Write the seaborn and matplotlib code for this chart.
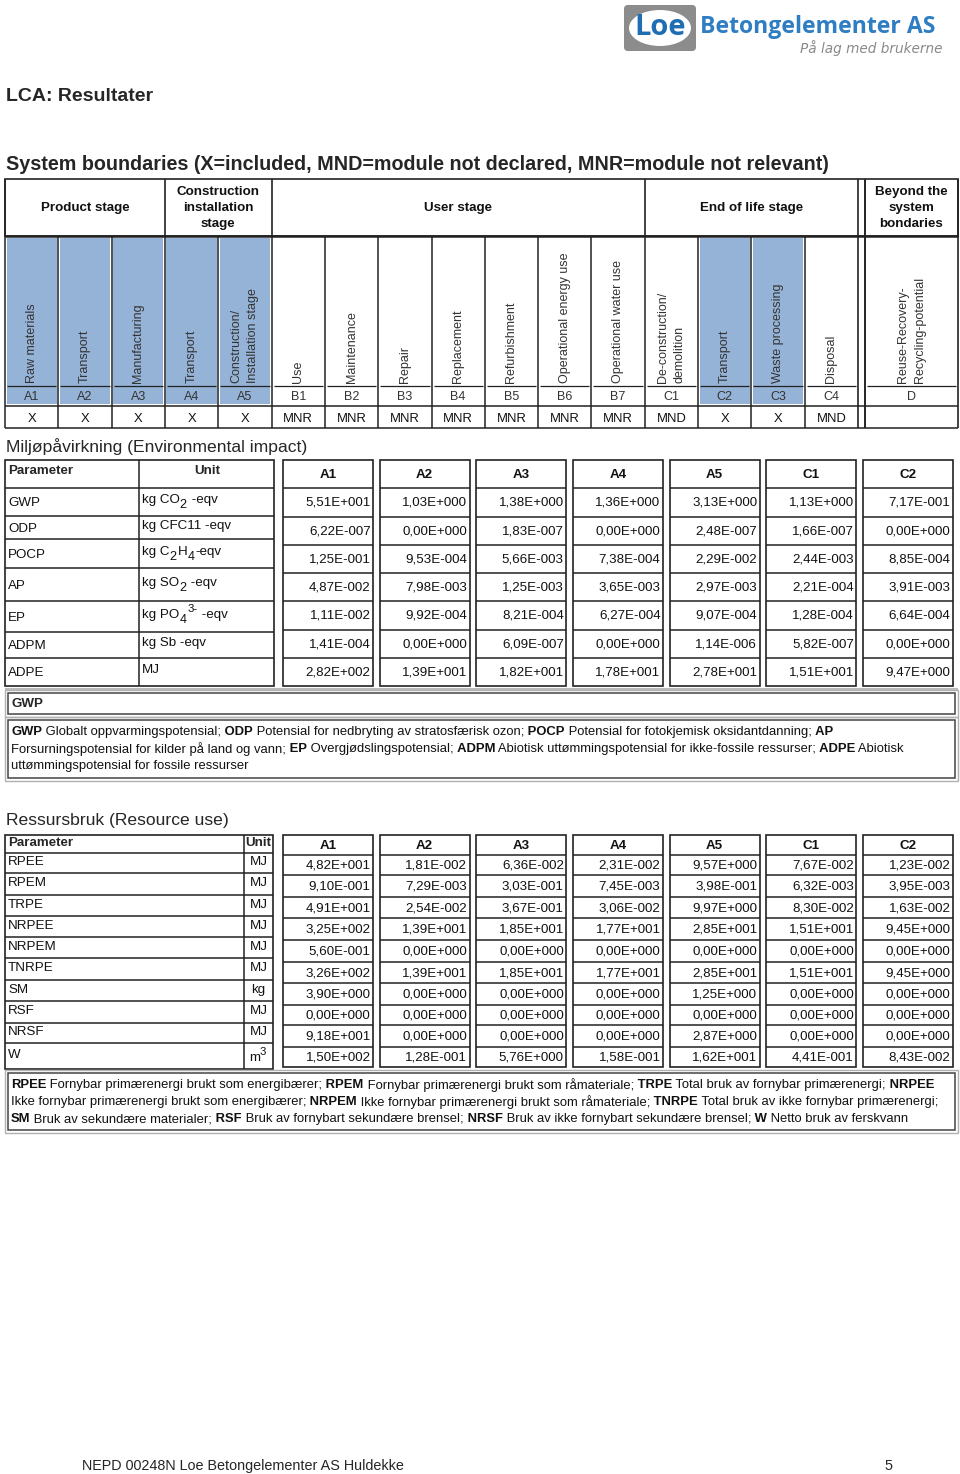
import re
import matplotlib
matplotlib.use("Agg")
import matplotlib.pyplot as plt
from matplotlib import font_manager
from matplotlib.patches import Rectangle, FancyBboxPatch, Ellipse
import numpy as np
import seaborn as sns

# ---- system boundaries -------------------------------------------------
modules = ["A1", "A2", "A3", "A4", "A5", "B1", "B2", "B3", "B4", "B5", "B6",
           "B7", "C1", "C2", "C3", "C4", "D"]
module_names = ["Raw materials", "Transport", "Manufacturing", "Transport",
                "Construction/\nInstallation stage", "Use", "Maintenance",
                "Repair", "Replacement", "Refurbishment",
                "Operational energy use", "Operational water use",
                "De-construction/\ndemolition", "Transport", "Waste processing",
                "Disposal", "Reuse-Recovery-\nRecycling-potential"]
module_status = ["X", "X", "X", "X", "X", "MNR", "MNR", "MNR", "MNR", "MNR",
                 "MNR", "MNR", "MND", "X", "X", "MND", ""]
stages = ["Product stage", "Construction\ninstallation\nstage", "User stage",
          "End of life stage", "Beyond the\nsystem\nbondaries"]
stage_first = [0, 3, 5, 12, 16]
stage_last = [3, 5, 12, 16, 17]

# ---- environmental impact ----------------------------------------------
value_cols = ["A1", "A2", "A3", "A4", "A5", "C1", "C2"]
env_params = ["GWP", "ODP", "POCP", "AP", "EP", "ADPM", "ADPE"]
# {_x} = subscript, {^x} = superscript
env_units = ["kg CO{_2} -eqv", "kg CFC11 -eqv", "kg C{_2}H{_4}-eqv",
             "kg SO{_2} -eqv", "kg PO{_4}{^3-} -eqv", "kg Sb -eqv", "MJ"]
env_a1 = [5.51e1, 6.22e-7, 1.25e-1, 4.87e-2, 1.11e-2, 1.41e-4, 2.82e2]
env_a2 = [1.03e0, 0.0, 9.53e-4, 7.98e-3, 9.92e-4, 0.0, 1.39e1]
env_a3 = [1.38e0, 1.83e-7, 5.66e-3, 1.25e-3, 8.21e-4, 6.09e-7, 1.82e1]
env_a4 = [1.36e0, 0.0, 7.38e-4, 3.65e-3, 6.27e-4, 0.0, 1.78e1]
env_a5 = [3.13e0, 2.48e-7, 2.29e-2, 2.97e-3, 9.07e-4, 1.14e-6, 2.78e1]
env_c1 = [1.13e0, 1.66e-7, 2.44e-3, 2.21e-4, 1.28e-4, 5.82e-7, 1.51e1]
env_c2 = [7.17e-1, 0.0, 8.85e-4, 3.91e-3, 6.64e-4, 0.0, 9.47e0]

# ---- resource use ------------------------------------------------------
res_params = ["RPEE", "RPEM", "TRPE", "NRPEE", "NRPEM", "TNRPE", "SM", "RSF",
              "NRSF", "W"]
res_units = ["MJ", "MJ", "MJ", "MJ", "MJ", "MJ", "kg", "MJ", "MJ", "m{^3}"]
res_a1 = [4.82e1, 9.10e-1, 4.91e1, 3.25e2, 5.60e-1, 3.26e2, 3.90e0, 0.0, 9.18e1, 1.50e2]
res_a2 = [1.81e-2, 7.29e-3, 2.54e-2, 1.39e1, 0.0, 1.39e1, 0.0, 0.0, 0.0, 1.28e-1]
res_a3 = [6.36e-2, 3.03e-1, 3.67e-1, 1.85e1, 0.0, 1.85e1, 0.0, 0.0, 0.0, 5.76e0]
res_a4 = [2.31e-2, 7.45e-3, 3.06e-2, 1.77e1, 0.0, 1.77e1, 0.0, 0.0, 0.0, 1.58e-1]
res_a5 = [9.57e0, 3.98e-1, 9.97e0, 2.85e1, 0.0, 2.85e1, 1.25e0, 0.0, 2.87e0, 1.62e1]
res_c1 = [7.67e-2, 6.32e-3, 8.30e-2, 1.51e1, 0.0, 1.51e1, 0.0, 0.0, 0.0, 4.41e-1]
res_c2 = [1.23e-2, 3.95e-3, 1.63e-2, 9.45e0, 0.0, 9.45e0, 0.0, 0.0, 0.0, 8.43e-2]

env_legend = [
    [("GWP", True), (" Globalt oppvarmingspotensial;", False), (" ODP", True),
     (" Potensial for nedbryting av stratosfærisk ozon;", False), (" POCP", True),
     (" Potensial for fotokjemisk oksidantdanning;", False), (" AP", True)],
    [("Forsurningspotensial for kilder på land og vann;", False), (" EP", True),
     (" Overgjødslingspotensial;", False), (" ADPM", True),
     (" Abiotisk uttømmingspotensial for ikke-fossile ressurser;", False),
     (" ADPE", True), (" Abiotisk", False)],
    [("uttømmingspotensial for fossile ressurser", False)],
]
res_legend = [
    [("RPEE", True), (" Fornybar primærenergi brukt som energibærer;", False),
     (" RPEM", True), (" Fornybar primærenergi brukt som råmateriale;", False),
     (" TRPE", True), (" Total bruk av fornybar primærenergi;", False), (" NRPEE", True)],
    [("Ikke fornybar primærenergi brukt som energibærer;", False), (" NRPEM", True),
     (" Ikke fornybar primærenergi brukt som råmateriale;", False), (" TNRPE", True),
     (" Total bruk av ikke fornybar primærenergi;", False)],
    [("SM", True), (" Bruk av sekundære materialer;", False), (" RSF", True),
     (" Bruk av fornybart sekundære brensel;", False), (" NRSF", True),
     (" Bruk av ikke fornybart sekundære brensel;", False), (" W", True),
     (" Netto bruk av ferskvann", False)],
]


def epd_fmt(v):
    m, e = f"{v:.2e}".split("e")
    e = int(e)
    return f"{m.replace('.', ',')}E{'+' if e >= 0 else '-'}{abs(e):03d}"


sns.set_style("white")
plt.rcParams["font.family"] = ["Liberation Sans", "DejaVu Sans"]

installed = {f.name for f in font_manager.fontManager.ttflist}
NARROW = "Liberation Sans Narrow" in installed
narrow_family = ["Liberation Sans Narrow", "Liberation Sans"] if NARROW else ["Liberation Sans"]
legend_size = 10.9 if NARROW else 9.4

DARK = "#222222"
BLUE = "#95b3d7"
TXT = "#111111"

fig = plt.figure(figsize=(9.6, 14.74), dpi=100)
ax = fig.add_axes([0, 0, 1, 1])
ax.set_xlim(0, 960)
ax.set_ylim(1474, 0)
ax.axis("off")
renderer = fig.canvas.get_renderer()


def line(x0, x1, y0, y1, lw=1.0, c=DARK):
    ax.plot([x0, x1], [y0, y1], color=c, lw=lw, solid_capstyle="butt")


def box(x0, y0, x1, y1, lw=1.0, ec=DARK, fc="none"):
    ax.add_patch(Rectangle((x0, y0), x1 - x0, y1 - y0, fill=fc != "none",
                           fc=fc, ec=ec, lw=lw))


def rich(x, y, runs, size, family):
    for txt, bold in runs:
        t = ax.text(x, y, txt, fontsize=size, family=family, color=TXT,
                    fontweight="bold" if bold else "normal", va="center", ha="left")
        x += t.get_window_extent(renderer).width


def unit_text(x, y, s, size):
    # plain text with {_sub} / {^sup} pieces, laid out run by run
    for piece in re.split(r"(\{[_^][^}]*\})", s):
        if not piece:
            continue
        dy, fs = 0, size
        if piece.startswith("{_"):
            dy, fs, piece = 5, size * 0.95, piece[2:-1]
        elif piece.startswith("{^"):
            dy, fs, piece = -6, size * 0.85, piece[2:-1]
        t = ax.text(x, y + dy, piece, fontsize=fs, va="center", ha="left", color=TXT)
        x += t.get_window_extent(renderer).width + (1 if dy else 0)


# ---- logo --------------------------------------------------------------
ax.add_patch(FancyBboxPatch((624, 5), 72, 46, boxstyle="round,pad=0,rounding_size=4",
                            fc="#8c8c8c", ec="none"))
ax.add_patch(Ellipse((660, 28), 62, 36, fc="white", ec="none"))
ax.text(660, 27, "Loe", fontsize=21, fontweight="bold", color="#1f6db3",
        family="Open Sans", ha="center", va="center")
ax.text(700, 27, "Betongelementer AS", fontsize=16.6, fontweight="bold",
        color="#2f7dc2", family="Open Sans", ha="left", va="center")
ax.text(942, 48.5, "På lag med brukerne", fontsize=9.8, style="italic",
        color="#8a8a8a", family="DejaVu Sans", ha="right", va="center")

# ---- titles ------------------------------------------------------------
ax.text(6, 96, "LCA: Resultater", fontsize=14, fontweight="bold", va="center")
ax.text(6, 164, "System boundaries (X=included, MND=module not declared, "
        "MNR=module not relevant)", fontsize=14.2, fontweight="bold", va="center")

# ---- system boundaries table -------------------------------------------
col_w = (858 - 5) / 16
lefts = [5 + i * col_w for i in range(16)] + [865]
rights = [5 + (i + 1) * col_w for i in range(16)] + [958]
TOP, HEAD, CODE, BLUE_BOT, XTOP, XBOT = 179, 236, 386, 404, 406, 428

box(5, TOP, 958, HEAD, lw=1.2)
line(5, 958, HEAD, HEAD, lw=1.8)
for name, a, b in zip(stages, stage_first, stage_last):
    x0, x1 = lefts[a], rights[b - 1]
    ax.text((x0 + x1) / 2, (TOP + HEAD) / 2 + 0.5, name, fontsize=9.6, fontweight="bold",
            ha="center", va="center", linespacing=1.42, color=TXT)
    line(x0, x0, TOP, HEAD, lw=1.2)
line(858, 858, TOP, XBOT, lw=1.2)
line(865, 865, TOP, XBOT, lw=1.2)

for i, (code, name, st) in enumerate(zip(modules, module_names, module_status)):
    x0, x1 = lefts[i], rights[i]
    cx = (x0 + x1) / 2
    if st == "X":
        box(x0 + 1.5, HEAD + 1.5, x1 - 1.5, BLUE_BOT, lw=0, ec="none", fc=BLUE)
    ax.text(cx, 383, name, rotation=90, fontsize=9, ha="center", va="bottom",
            multialignment="left", linespacing=1.55, color="#333333")
    ax.text(cx, 396.5, code, fontsize=9, ha="center", va="center", color="#333333")
    ax.text(cx, 418.5, st, fontsize=9.4, ha="center", va="center", color=TXT)
    line(x0 + 2, x1 - 2, CODE, CODE, lw=0.9)
    line(x0, x0, HEAD, XBOT, lw=1.1)
line(958, 958, TOP, XBOT, lw=1.2)
line(5, 958, XTOP, XTOP, lw=1.1)
line(5, 958, XBOT, XBOT, lw=1.1)

# ---- value boxes helper -------------------------------------------------
box_x = [283 + j * 96.67 for j in range(len(value_cols))]
BOX_W = 90


def value_boxes(rows, columns, size):
    for x0, head, vals in zip(box_x, value_cols, columns):
        box(x0, rows[0], x0 + BOX_W, rows[-1], lw=1.2)
        for y in rows[1:-1]:
            line(x0, x0 + BOX_W, y, y, lw=1.1)
        ax.text(x0 + BOX_W / 2, (rows[0] + rows[1]) / 2 + 1, head, fontsize=size,
                fontweight="bold", ha="center", va="center", color=TXT)
        for k, v in enumerate(vals):
            ax.text(x0 + BOX_W - 2.5, (rows[k + 1] + rows[k + 2]) / 2 + 0.5, epd_fmt(v),
                    fontsize=size, ha="right", va="center", color=TXT)


# ---- environmental impact ----------------------------------------------
ax.text(6, 447, "Miljøpåvirkning (Environmental impact)", fontsize=12.6, va="center")
env_rows_l = [460, 488, 516, 539, 568, 601, 632, 658, 686]
env_rows_r = list(np.linspace(460, 686, 9))
box(5, 460, 274, 686, lw=1.2)
line(139, 139, 460, 686, lw=1.1)
for y in env_rows_l[1:-1]:
    line(5, 274, y, y, lw=1.1)
ax.text(8, 471, "Parameter", fontsize=9.6, fontweight="bold", va="center")
ax.text(207, 471, "Unit", fontsize=9.6, fontweight="bold", va="center", ha="center")
for k, (p, u) in enumerate(zip(env_params, env_units)):
    cy = (env_rows_l[k + 1] + env_rows_l[k + 2]) / 2
    ax.text(8, cy + 1, p, fontsize=9.6, va="center", color=TXT)
    unit_text(142, cy - 2, u, 9.6)
value_boxes(env_rows_r, [env_a1, env_a2, env_a3, env_a4, env_a5, env_c1, env_c2], 9.6)

line(5, 958, 689, 689, lw=1.5, c="#bbbbbb")
box(5, 690, 958, 717, lw=1.0, ec="#b0b0b0")
box(8, 693, 955, 714, lw=1.1, ec="#444444")
ax.text(11, 703.5, "GWP", fontsize=9.6, fontweight="bold", va="center",
        family=narrow_family)
box(5, 717, 958, 781, lw=1.0, ec="#b0b0b0")
box(8, 720, 955, 778, lw=1.1, ec="#444444")
for i, runs in enumerate(env_legend):
    rich(11, 732 + i * 17, runs, legend_size, narrow_family)

# ---- resource use ------------------------------------------------------
ax.text(6, 820, "Ressursbruk (Resource use)", fontsize=12.6, va="center")
res_rows_l = [835, 853, 873, 895, 916, 937, 958, 980, 1001, 1023, 1043, 1069]
res_rows_r = [835, 855, 875, 897, 918, 940, 962, 983, 1005, 1025, 1047, 1067]
box(5, 835, 273, 1069, lw=1.2)
line(244, 244, 835, 1069, lw=1.1)
for y in res_rows_l[1:-1]:
    line(5, 273, y, y, lw=1.1)
ax.text(8, 843, "Parameter", fontsize=9.6, fontweight="bold", va="center")
ax.text(258.5, 843, "Unit", fontsize=9.6, fontweight="bold", va="center", ha="center")
for k, (p, u) in enumerate(zip(res_params, res_units)):
    cy = (res_rows_l[k + 1] + res_rows_l[k + 2]) / 2
    ax.text(8, cy - 1, p, fontsize=9.6, va="center", color=TXT)
    if "{" in u:
        unit_text(249, cy + 2, u, 9.6)
    else:
        ax.text(258.5, cy - 1, u, fontsize=9.6, va="center", ha="center", color=TXT)
value_boxes(res_rows_r, [res_a1, res_a2, res_a3, res_a4, res_a5, res_c1, res_c2], 9.6)

box(5, 1070, 958, 1133, lw=1.0, ec="#b0b0b0")
box(8, 1073, 955, 1130, lw=1.1, ec="#444444")
for i, runs in enumerate(res_legend):
    rich(11, 1085 + i * 17, runs, legend_size, narrow_family)

# ---- footer ------------------------------------------------------------
ax.text(82, 1466, "NEPD 00248N Loe Betongelementer AS Huldekke", fontsize=10.4,
        va="center", family=narrow_family)
ax.text(888, 1466, "5", fontsize=10.4, va="center", ha="center", family=narrow_family)

fig.savefig("out.png", dpi=100, facecolor="white")
